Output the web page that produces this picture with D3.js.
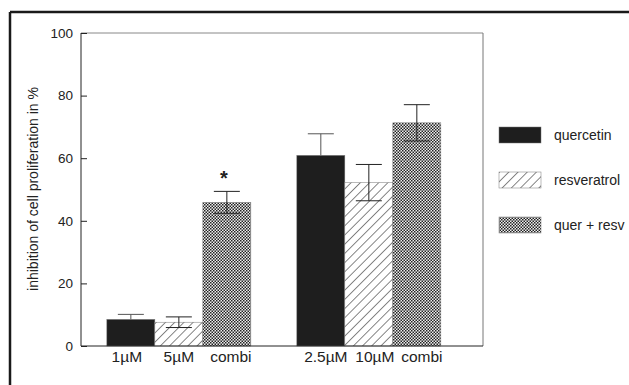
<!DOCTYPE html>
<html><head><meta charset="utf-8">
<script src="https://cdn.jsdelivr.net/npm/d3@7"></script>
<style>body{margin:0;background:#fff}svg{display:block}text{font-family:"Liberation Sans",Arial,sans-serif;fill:#222}</style>
</head><body><div id="c"></div>
<script>
const groups = ["low", "high"];
const series = ["quercetin", "resveratrol", "quer + resv"];
const doseLabels = [["1µM", "5µM", "combi"], ["2.5µM", "10µM", "combi"]];
const values = [[8.5, 7.6, 45.9], [60.9, 52.2, 71.3]];
const errors = [[1.6, 1.7, 3.5], [6.9, 5.8, 5.8]];
const yTicks = [0, 20, 40, 60, 80, 100];
const yTitle = "inhibition of cell proliferation in %";
const significance = [[null, null, "*"], [null, null, null]];

const W = 629, H = 385;
const svg = d3.select("#c").append("svg").attr("width", W).attr("height", H);
const defs = svg.append("defs");
const hatch = defs.append("pattern").attr("id", "hatch").attr("patternUnits", "userSpaceOnUse")
  .attr("width", 6.5).attr("height", 6.5).attr("patternTransform", "rotate(45)");
hatch.append("rect").attr("width", 6.5).attr("height", 6.5).attr("fill", "#fff");
hatch.append("line").attr("x1", 0).attr("y1", 0).attr("x2", 0).attr("y2", 6.5).attr("stroke", "#222").attr("stroke-width", 1.1);
const check = defs.append("pattern").attr("id", "check").attr("patternUnits", "userSpaceOnUse")
  .attr("width", 3).attr("height", 3);
check.append("rect").attr("width", 3).attr("height", 3).attr("fill", "#eee");
check.append("rect").attr("width", 1.5).attr("height", 1.5).attr("fill", "#222");
check.append("rect").attr("x", 1.5).attr("y", 1.5).attr("width", 1.5).attr("height", 1.5).attr("fill", "#222");
const fills = ["#1e1e1e", "url(#hatch)", "url(#check)"];

// outer frame (top + left only, clipped)
svg.append("line").attr("x1", 10).attr("x2", W).attr("y1", 12).attr("y2", 12).attr("stroke", "#1a1a1a").attr("stroke-width", 2.5);
svg.append("line").attr("x1", 10).attr("x2", 10).attr("y1", 12).attr("y2", H).attr("stroke", "#1a1a1a").attr("stroke-width", 2.5);

const L = 81, R = 483, T = 33, B = 346;
const y = d3.scaleLinear().domain([0, 100]).range([B, T]);
const xg = d3.scaleBand().domain(groups).range([L, R]).paddingInner(0.242).paddingOuter(0.179).align(0.38);
const xs = d3.scaleBand().domain(series).range([0, xg.bandwidth()]);
const labelShift = [[-4, 0, 4], [5, 6, 5]];

// plot frame
svg.append("line").attr("x1", L).attr("x2", R).attr("y1", T).attr("y2", T).attr("stroke", "#888").attr("stroke-width", 1);
svg.append("line").attr("x1", R).attr("x2", R).attr("y1", T).attr("y2", B).attr("stroke", "#777").attr("stroke-width", 1);

groups.forEach((g, gi) => {
  const gEl = svg.append("g");
  series.forEach((s, si) => {
    const x0 = xg(g) + xs(s), w = xs.bandwidth(), v = values[gi][si], e = errors[gi][si];
    gEl.append("rect").attr("x", x0).attr("y", y(v)).attr("width", w).attr("height", y(0) - y(v))
      .attr("fill", fills[si]).attr("stroke", "#777").attr("stroke-width", 0.5);
    const cx = x0 + w / 2;
    const col = si === 0 ? "#555" : "#222";
    const lo = si === 0 ? v : v - e;
    gEl.append("line").attr("x1", cx).attr("x2", cx).attr("y1", y(v + e)).attr("y2", y(lo)).attr("stroke", col);
    gEl.append("line").attr("x1", cx - 13).attr("x2", cx + 13).attr("y1", y(v + e)).attr("y2", y(v + e)).attr("stroke", col);
    if (si !== 0) gEl.append("line").attr("x1", cx - 13).attr("x2", cx + 13).attr("y1", y(v - e)).attr("y2", y(v - e)).attr("stroke", col);
    if (significance[gi][si]) gEl.append("text").attr("x", cx - 3).attr("y", y(v + e) - 6)
      .attr("text-anchor", "middle").attr("font-size", 20).attr("font-weight", "bold").text(significance[gi][si]);
    gEl.append("text").attr("x", cx + labelShift[gi][si]).attr("y", 362).attr("text-anchor", "middle")
      .attr("font-size", 15.5).text(doseLabels[gi][si]);
  });
});

// axes
const yAxis = svg.append("g").attr("transform", `translate(${L},0)`)
  .call(d3.axisLeft(y).tickValues(yTicks).tickSize(-6).tickPadding(8));
yAxis.select(".domain").attr("stroke", "#222").attr("d", `M0,${T}V${B}`);
yAxis.selectAll("line").attr("stroke", "#222");
yAxis.selectAll("text").attr("font-size", 13.5).attr("fill", "#222").attr("font-family", '"Liberation Sans",Arial,sans-serif');
svg.append("line").attr("x1", L).attr("x2", R).attr("y1", B).attr("y2", B).attr("stroke", "#222");

svg.append("text").attr("transform", `translate(38,189) rotate(-90)`).attr("text-anchor", "middle")
  .attr("font-size", 14).text(yTitle);

// legend
const leg = svg.append("g");
series.forEach((s, i) => {
  const ly = 127 + i * 45;
  leg.append("rect").attr("x", 499).attr("y", ly).attr("width", 42).attr("height", 16)
    .attr("fill", fills[i]).attr("stroke", "#777").attr("stroke-width", 0.5);
  leg.append("text").attr("x", 554).attr("y", ly + 13).attr("font-size", 14).text(s);
});
</script></body></html>
